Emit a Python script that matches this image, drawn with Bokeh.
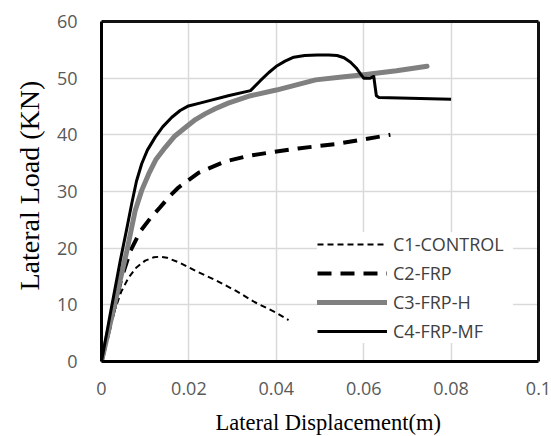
from bokeh.plotting import figure
from bokeh.models import Range1d, FixedTicker, Legend, LegendItem, Title, LinearAxis
from bokeh.embed import file_html
from bokeh.resources import INLINE

# ---- data ----
c1_x = [0, 0.0016, 0.003, 0.0045, 0.0062, 0.008, 0.010, 0.012, 0.0135, 0.015, 0.018, 0.0215, 0.026, 0.0307, 0.035, 0.040, 0.0428]
c1_y = [0, 5.0, 9.0, 12.3, 14.8, 16.6, 17.8, 18.4, 18.5, 18.3, 17.4, 16.0, 14.4, 12.5, 10.5, 8.6, 7.3]

c2_x = [0, 0.0045, 0.0066, 0.0089, 0.0112, 0.0134, 0.0155, 0.0176, 0.0222, 0.0283, 0.0337, 0.0387, 0.045, 0.0539, 0.060, 0.0661]
c2_y = [0, 14.5, 19.5, 23.0, 25.3, 27.2, 29.1, 30.7, 33.3, 35.3, 36.3, 36.9, 37.6, 38.4, 39.2, 40.0]

c3_x = [0, 0.0058, 0.0077, 0.0092, 0.0108, 0.0125, 0.0146, 0.0168, 0.0192, 0.0215, 0.0237, 0.026, 0.029, 0.0341,
        0.040, 0.049, 0.055, 0.060, 0.0675, 0.0745]
c3_y = [0, 19.5, 26.6, 30.2, 33.1, 35.7, 37.8, 39.8, 41.3, 42.7, 43.7, 44.6, 45.6, 46.9,
        47.9, 49.7, 50.2, 50.6, 51.3, 52.1]

c4_x = [0, 0.002, 0.0043, 0.0058, 0.0069, 0.008, 0.0092, 0.0105, 0.0123, 0.014, 0.0161, 0.018, 0.0199, 0.0225,
        0.0245, 0.029, 0.0341, 0.0364, 0.0383, 0.0402, 0.042, 0.044, 0.0465, 0.0494, 0.052, 0.0539, 0.0555,
        0.057, 0.0583, 0.0593, 0.060, 0.0615, 0.0623, 0.0629, 0.0635, 0.080]
c4_y = [0, 8.4, 17.8, 23.5, 27.8, 31.8, 34.9, 37.3, 39.6, 41.4, 43.1, 44.3, 45.1, 45.6,
        46.0, 46.9, 47.8, 49.6, 51.0, 52.2, 53.0, 53.7, 54.0, 54.1, 54.1, 54.0, 53.6,
        52.8, 51.8, 50.7, 50.0, 50.0, 50.3, 46.9, 46.6, 46.3]

series_names = ["C1-CONTROL", "C2-FRP", "C3-FRP-H", "C4-FRP-MF"]
x_ticks = [0, 0.02, 0.04, 0.06, 0.08, 0.1]
x_tick_labels = ["0", "0.02", "0.04", "0.06", "0.08", "0.1"]
y_ticks = [0, 10, 20, 30, 40, 50, 60]
x_title = "Lateral Displacement(m)"
y_title = "Lateral Load (KN)"
x_min, x_max = 0, 0.1
y_min, y_max = 0, 60

p = figure(width=551, height=436, output_backend="svg", toolbar_location=None,
           x_range=Range1d(x_min, x_max), y_range=Range1d(y_min, y_max),
           min_border_left=101, min_border_right=13, min_border_top=21, min_border_bottom=75)

p.background_fill_color = "white"
p.border_fill_color = "white"
p.outline_line_color = None

p.xaxis.ticker = FixedTicker(ticks=x_ticks)
p.xaxis.major_label_overrides = {t: l for t, l in zip(x_ticks, x_tick_labels)}
p.yaxis.ticker = FixedTicker(ticks=y_ticks)
p.xgrid.ticker = FixedTicker(ticks=x_ticks)
p.ygrid.ticker = FixedTicker(ticks=y_ticks)
for g in (p.xgrid, p.ygrid):
    g.grid_line_color = "#d9d9d9"
    g.grid_line_width = 1.5

for ax in (p.xaxis, p.yaxis):
    ax.axis_line_color = "black"
    ax.axis_line_width = 3
    ax.major_tick_line_color = None
    ax.minor_tick_line_color = None
    ax.major_label_text_font = "Open Sans"
    ax.major_label_text_font_size = "18px"
    ax.major_label_text_color = "#595959"

p.xaxis.major_label_standoff = 14
p.yaxis.major_label_standoff = 18
# small blank spacer between the x tick labels and the x title
p.xaxis.axis_label = " "
p.xaxis.axis_label_text_font_size = "7px"
p.xaxis.axis_label_standoff = 0

# frame on the top and right sides
for side, ticks in (("above", x_ticks), ("right", y_ticks)):
    fa = LinearAxis(ticker=FixedTicker(ticks=ticks), axis_line_color="#111111", axis_line_width=3,
                    major_tick_line_color=None, minor_tick_line_color=None,
                    major_label_text_font_size="8px", major_label_text_alpha=0,
                    major_label_standoff=0)
    p.add_layout(fa, side)

r1 = p.line(c1_x, c1_y, line_color="black", line_width=2, line_dash="6 4")
r2 = p.line(c2_x, c2_y, line_color="black", line_width=4, line_dash="14 9")
r3 = p.line(c3_x, c3_y, line_color="#808080", line_width=5, line_cap="round", line_join="round")
r4 = p.line(c4_x, c4_y, line_color="black", line_width=3, line_join="round")

legend = Legend(items=[LegendItem(label=n, renderers=[r]) for n, r in zip(series_names, [r1, r2, r3, r4])],
                location=(216, 18))
legend.background_fill_color = "white"
legend.background_fill_alpha = 1
legend.border_line_color = None
legend.label_text_font = "Open Sans"
legend.label_text_font_size = "18px"
legend.label_text_color = "#404040"
legend.glyph_width = 70
legend.glyph_height = 20
legend.label_height = 20
legend.spacing = 5
legend.padding = 5
legend.margin = 0
legend.label_standoff = 6
legend.label_width = 120
p.add_layout(legend, "center")

# axis titles (Times-like serif)
p.add_layout(Title(text=x_title, align="left", offset=114, standoff=0,
                   text_font="Liberation Serif", text_font_size="22.5px", text_font_style="normal",
                   text_color="black"), "below")
p.add_layout(Title(text=y_title, align="left", offset=71, standoff=18,
                   text_font="Liberation Serif", text_font_size="28px", text_font_style="normal",
                   text_color="black"), "left")

open("out.html", "w").write(file_html(p, INLINE))
